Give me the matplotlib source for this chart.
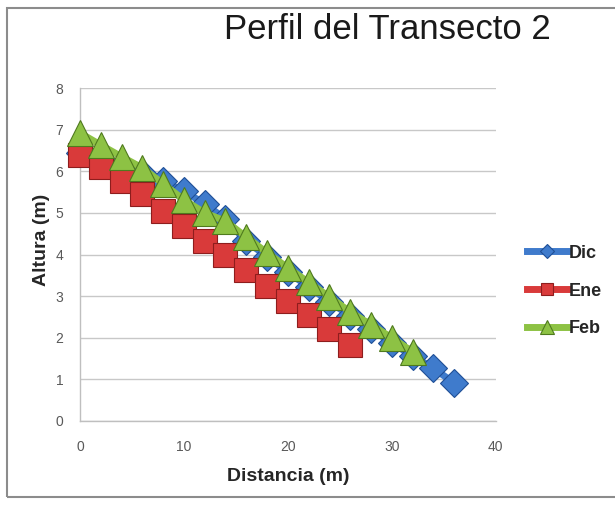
import numpy as np
import matplotlib
matplotlib.use("Agg")
import matplotlib.pyplot as plt
from matplotlib.patches import Rectangle

plt.rcParams['font.family'] = ['Liberation Sans', 'DejaVu Sans']

# Perfil del transecto 2: distancia (m) vs altura (m) por mes
dist_dic = [0, 2, 4, 6, 8, 10, 12, 14, 16, 18, 20, 22, 24, 26, 28, 30, 32, 34, 36]
alt_dic = [6.45, 6.3, 6.1, 5.95, 5.77, 5.52, 5.22, 4.85, 4.32, 3.95, 3.58, 3.22,
           2.87, 2.52, 2.2, 1.88, 1.56, 1.27, 0.91]

dist_ene = [0, 2, 4, 6, 8, 10, 12, 14, 16, 18, 20, 22, 24, 26]
alt_ene = [6.4, 6.1, 5.77, 5.45, 5.04, 4.68, 4.32, 4.0, 3.63, 3.24, 2.88, 2.55,
           2.2, 1.82]

dist_feb = [0, 2, 4, 6, 8, 10, 12, 14, 16, 18, 20, 22, 24, 26, 28, 30, 32]
alt_feb = [6.92, 6.63, 6.35, 6.08, 5.7, 5.31, 5.0, 4.8, 4.42, 4.04, 3.68, 3.33,
           2.98, 2.62, 2.31, 2.0, 1.66]

x_ticks = [0, 10, 20, 30, 40]
y_ticks = [0, 1, 2, 3, 4, 5, 6, 7, 8]

fig = plt.figure(figsize=(6.15, 5.09), dpi=100)
ax = fig.add_axes([0.130, 0.173, 0.676, 0.654])

series = [
    ("Dic", dist_dic, alt_dic, 'D', 14, '#3f7bcc', '#1f4f96'),
    ("Ene", dist_ene, alt_ene, 's', 17, '#d93a3a', '#8e1d1d'),
    ("Feb", dist_feb, alt_feb, '^', 19, '#8dc244', '#4f7a1e'),
]
for i, (name, xs, ys, mk, ms, col, edge) in enumerate(series):
    ax.plot(xs, ys, color=col, lw=5, marker=mk, markersize=ms,
            markerfacecolor=col, markeredgecolor=edge, markeredgewidth=0.8,
            label=name, clip_on=False, zorder=3 + i)

ax.set_xlim(0, 40)
ax.set_ylim(0, 8)
ax.set_xticks(x_ticks)
ax.set_yticks(y_ticks)
ax.yaxis.grid(True, color='#c8c8c8', lw=1)
ax.set_axisbelow(True)
for s in ['top', 'right']:
    ax.spines[s].set_visible(False)
for s in ['left', 'bottom']:
    ax.spines[s].set_color('#bfbfbf')
    ax.spines[s].set_linewidth(1)
ax.tick_params(axis='x', length=0, pad=14, labelsize=10, labelcolor='#595959')
ax.tick_params(axis='y', length=0, pad=12, labelsize=10, labelcolor='#595959')

ax.set_xlabel("Distancia (m)", fontsize=14, fontweight='bold', color='#262626')
ax.xaxis.set_label_coords(0.500, -0.14)
ax.set_ylabel("Altura (m)", fontsize=14, fontweight='bold', color='#262626')
ax.yaxis.set_label_coords(-0.072, 0.545)

fig.text(0.630, 1 - 39 / 509, "Perfil del Transecto 2", fontsize=25,
         ha='center', va='baseline', color='#1a1a1a')

leg = ax.legend(loc='center left', bbox_to_anchor=(527 / 615, 1 - 291 / 509),
                bbox_transform=fig.transFigure, frameon=False, borderpad=0,
                borderaxespad=0, handlelength=2.2, handletextpad=0.1,
                labelspacing=1.15, markerscale=0.5,
                prop={'size': 13, 'weight': 'bold'})
for t in leg.get_texts():
    t.set_color('#262626')

# marco del gráfico
fig.patches.append(Rectangle((7 / 615, 1 - 497 / 509), 1.0, 489 / 509,
                             transform=fig.transFigure, fill=False,
                             edgecolor='#8c8c8c', lw=1.5))

fig.savefig("out.png", dpi=100)
